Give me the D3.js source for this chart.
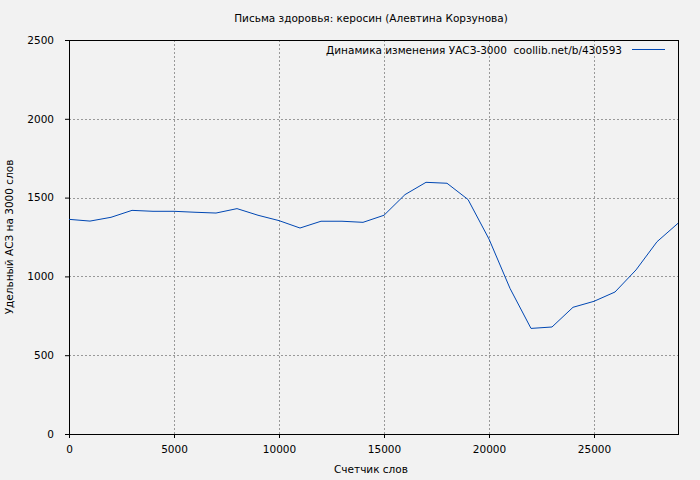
<!DOCTYPE html>
<html lang="ru">
<head>
<meta charset="utf-8">
<title>Письма здоровья</title>
<script src="https://cdnjs.cloudflare.com/ajax/libs/d3/7.8.5/d3.min.js"></script>
<style>
  body { margin: 0; background: #f2f2f2; }
  svg { display: block; background: #f2f2f2; }
  text { font-family: "DejaVu Sans", sans-serif; font-size: 10.5px; fill: #000; white-space: pre; }
  .grid line { stroke: #999; stroke-dasharray: 2,2; }
</style>
</head>
<body>
<div id="chart"></div>
<script>
// words counter (x) and specific value (y)
var words = [0, 1000, 2000, 3000, 4000, 5000, 6000, 7000, 8000, 9000, 10000,
  11000, 12000, 13000, 14000, 15000, 16000, 17000, 18000, 19000, 20000,
  21000, 22000, 23000, 24000, 25000, 26000, 27000, 28000, 29000];
var values = [1362, 1351, 1375, 1419, 1413, 1413, 1407, 1402, 1430, 1388, 1354,
  1307, 1350, 1350, 1343, 1388, 1519, 1597, 1591, 1488, 1237,
  924, 670, 679, 804, 842, 901, 1041, 1220, 1337];
var xTicks = [0, 5000, 10000, 15000, 20000, 25000];
var yTicks = [0, 500, 1000, 1500, 2000, 2500];

var margin = {top: 40, right: 22, bottom: 46, left: 69},
    width = 700 - margin.left - margin.right,
    height = 480 - margin.top - margin.bottom;

var svg = d3.select("#chart").append("svg")
  .attr("width", 700)
  .attr("height", 480);

var g = svg.append("g")
  .attr("transform", "translate(" + margin.left + "," + margin.top + ")");

var x = d3.scaleLinear().domain([0, 29000]).range([0, width]);
var y = d3.scaleLinear().domain([0, 2500]).range([height, 0]);

// grid
g.append("g").attr("class", "grid")
  .selectAll("line").data(xTicks.slice(1)).enter().append("line")
  .attr("x1", function(d) { return x(d) + 0.5; })
  .attr("x2", function(d) { return x(d) + 0.5; })
  .attr("y1", 0).attr("y2", height);
g.append("g").attr("class", "grid")
  .selectAll("line").data(yTicks.slice(1, -1)).enter().append("line")
  .attr("x1", 0).attr("x2", width)
  .attr("y1", function(d) { return Math.round(y(d)) + 0.5; })
  .attr("y2", function(d) { return Math.round(y(d)) + 0.5; });

// axes
var xAxis = d3.axisBottom(x).tickValues(xTicks).tickSize(4).tickPadding(8).tickFormat(d3.format("d"));
var yAxis = d3.axisLeft(y).tickValues(yTicks).tickSize(4).tickPadding(11).tickFormat(d3.format("d"));

function styleAxis(s) {
  s.select(".domain").remove();
  s.selectAll("text").style("font-size", "10.5px").style("font-family", "DejaVu Sans");
}

g.append("g")
  .attr("transform", "translate(0," + height + ")")
  .call(xAxis)
  .call(styleAxis);
g.append("g")
  .call(yAxis)
  .call(styleAxis);

// frame
g.append("rect")
  .attr("x", 0.5).attr("y", 0.5)
  .attr("width", width).attr("height", height)
  .attr("fill", "none").attr("stroke", "#000");

// line
var line = d3.line()
  .x(function(d, i) { return x(words[i]); })
  .y(function(d) { return y(d); });

g.append("path")
  .datum(values)
  .attr("fill", "none")
  .attr("stroke", "#0047b3")
  .attr("stroke-width", 1)
  .attr("d", line);

// title and labels
svg.append("text")
  .attr("x", 371).attr("y", 22)
  .attr("text-anchor", "middle")
  .text("Письма здоровья: керосин (Алевтина Корзунова)");

svg.append("text")
  .attr("x", 371).attr("y", 473)
  .attr("text-anchor", "middle")
  .text("Счетчик слов");

svg.append("text")
  .attr("transform", "translate(13," + (margin.top + height / 2) + ") rotate(-90)")
  .attr("text-anchor", "middle")
  .text("Удельный АСЗ на 3000 слов");

// legend
svg.append("text")
  .attr("x", 622).attr("y", 54)
  .attr("text-anchor", "end")
  .text("Динамика изменения УАСЗ-3000  coollib.net/b/430593");
svg.append("line")
  .attr("x1", 632).attr("x2", 665)
  .attr("y1", 49.5).attr("y2", 49.5)
  .attr("stroke", "#0047b3");
</script>
</body>
</html>
